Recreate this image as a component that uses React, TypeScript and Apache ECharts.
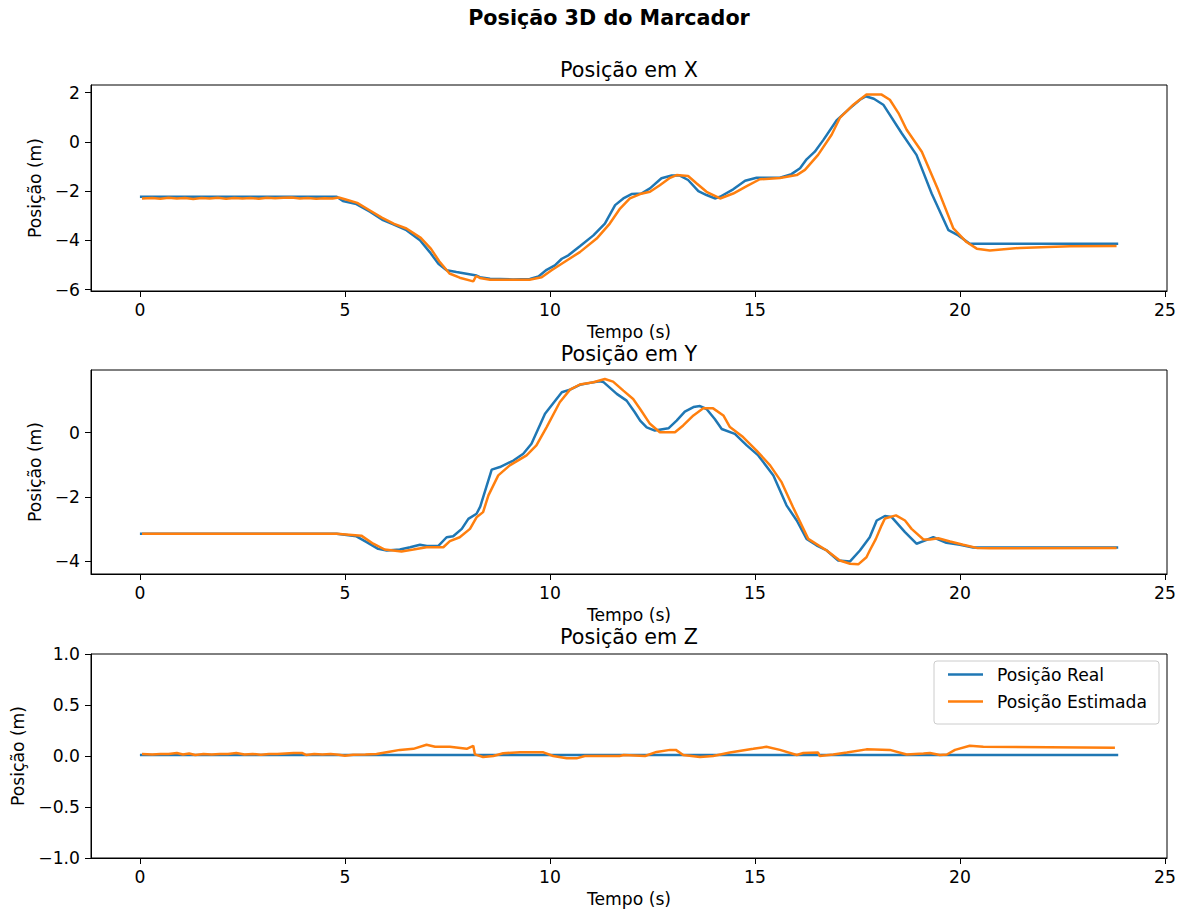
import React, { useEffect, useRef } from "react";
import * as echarts from "echarts";

// ---- data ----
const xTicks = [0, 5, 10, 15, 20, 25];
const yTicksX = [-6, -4, -2, 0, 2];
const yTicksY = [-4, -2, 0];

const tRealX = [0, 4.8, 4.95, 5.28, 5.61, 5.93, 6.18, 6.5, 6.83, 7.07, 7.28, 7.48, 7.72, 8.21, 8.29, 8.54, 9.1, 9.51, 9.72, 9.92, 10.12, 10.29, 10.45, 10.73, 11.06, 11.34, 11.59, 11.79, 11.99, 12.23, 12.44, 12.72, 12.97, 13.17, 13.37, 13.62, 13.82, 14.02, 14.15, 14.47, 14.76, 15.04, 15.37, 15.61, 15.89, 16.1, 16.26, 16.46, 16.67, 16.99, 17.32, 17.56, 17.7, 17.9, 18.13, 18.58, 18.94, 19.31, 19.72, 19.96, 20.24, 23.86];
const realX = [-2.23, -2.23, -2.4, -2.53, -2.84, -3.18, -3.35, -3.59, -4.0, -4.48, -4.95, -5.22, -5.29, -5.43, -5.5, -5.56, -5.59, -5.57, -5.47, -5.2, -5.02, -4.75, -4.61, -4.24, -3.8, -3.32, -2.57, -2.3, -2.12, -2.1, -1.89, -1.48, -1.37, -1.37, -1.55, -2.0, -2.16, -2.3, -2.23, -1.93, -1.58, -1.46, -1.46, -1.46, -1.31, -1.07, -0.71, -0.4, 0.08, 0.87, 1.37, 1.71, 1.85, 1.75, 1.51, 0.35, -0.53, -2.1, -3.59, -3.8, -4.14, -4.14];

const tEstX = [0.05, 0.3, 0.5, 0.7, 0.9, 1.1, 1.3, 1.5, 1.7, 1.9, 2.1, 2.3, 2.5, 2.7, 2.9, 3.1, 3.3, 3.5, 3.7, 3.9, 4.1, 4.3, 4.5, 4.7, 4.85, 5.0, 5.3, 5.6, 5.9, 6.2, 6.5, 6.85, 7.1, 7.3, 7.55, 7.8, 8.13, 8.2, 8.29, 8.54, 9.1, 9.5, 9.8, 10.04, 10.41, 10.73, 11.14, 11.46, 11.71, 11.95, 12.2, 12.44, 12.68, 12.93, 13.09, 13.37, 13.58, 13.82, 14.15, 14.47, 14.8, 15.12, 15.61, 16.02, 16.22, 16.54, 16.87, 17.07, 17.4, 17.72, 18.09, 18.29, 18.5, 18.7, 19.07, 19.47, 19.84, 20.16, 20.41, 20.73, 21.46, 22.68, 23.82];
const estX = [-2.3, -2.28, -2.31, -2.27, -2.3, -2.28, -2.32, -2.28, -2.3, -2.27, -2.31, -2.28, -2.3, -2.28, -2.31, -2.27, -2.29, -2.27, -2.26, -2.3, -2.28, -2.31, -2.29, -2.3, -2.26, -2.33, -2.48, -2.78, -3.08, -3.33, -3.52, -3.9, -4.35, -4.85, -5.35, -5.52, -5.67, -5.45, -5.53, -5.6, -5.6, -5.6, -5.5, -5.22, -4.82, -4.48, -3.93, -3.32, -2.71, -2.3, -2.12, -2.03, -1.76, -1.46, -1.35, -1.39, -1.69, -2.03, -2.3, -2.1, -1.8, -1.52, -1.47, -1.35, -1.14, -0.53, 0.29, 0.97, 1.51, 1.92, 1.92, 1.71, 1.17, 0.49, -0.4, -1.96, -3.52, -4.07, -4.34, -4.41, -4.31, -4.24, -4.23];

const tRealY = [0, 4.8, 5.28, 5.53, 5.81, 6.02, 6.34, 6.59, 6.83, 7.0, 7.28, 7.48, 7.64, 7.85, 8.01, 8.21, 8.3, 8.58, 8.78, 9.11, 9.35, 9.55, 9.88, 10.29, 10.49, 10.73, 10.98, 11.22, 11.3, 11.63, 11.87, 12.07, 12.2, 12.36, 12.56, 12.89, 13.09, 13.29, 13.5, 13.66, 13.82, 14.02, 14.19, 14.51, 14.8, 15.08, 15.45, 15.77, 16.02, 16.26, 16.5, 16.75, 17.03, 17.32, 17.56, 17.8, 17.97, 18.17, 18.33, 18.66, 18.94, 19.11, 19.35, 19.67, 20.0, 20.32, 23.86];
const realY = [-3.14, -3.14, -3.22, -3.4, -3.61, -3.66, -3.63, -3.56, -3.48, -3.52, -3.52, -3.25, -3.22, -2.99, -2.68, -2.52, -2.3, -1.15, -1.07, -0.87, -0.66, -0.35, 0.58, 1.25, 1.33, 1.48, 1.54, 1.59, 1.57, 1.2, 0.99, 0.63, 0.37, 0.16, 0.06, 0.13, 0.37, 0.65, 0.79, 0.82, 0.73, 0.42, 0.11, -0.04, -0.4, -0.71, -1.33, -2.26, -2.73, -3.3, -3.5, -3.66, -3.97, -4.0, -3.66, -3.25, -2.73, -2.59, -2.62, -3.09, -3.45, -3.37, -3.25, -3.42, -3.48, -3.57, -3.57];

const tEstY = [0.05, 4.8, 5.4, 5.69, 5.97, 6.38, 6.67, 6.99, 7.4, 7.56, 7.8, 8.05, 8.21, 8.37, 8.5, 8.74, 9.02, 9.43, 9.67, 9.92, 10.24, 10.49, 10.73, 11.06, 11.34, 11.54, 11.79, 12.03, 12.2, 12.44, 12.68, 13.05, 13.25, 13.5, 13.74, 13.98, 14.23, 14.39, 14.71, 15.04, 15.37, 15.65, 15.93, 16.3, 16.75, 17.07, 17.32, 17.52, 17.72, 17.8, 17.95, 18.09, 18.17, 18.44, 18.66, 18.82, 19.11, 19.27, 19.47, 19.76, 20.08, 20.41, 20.73, 23.82];
const estY = [-3.14, -3.14, -3.2, -3.45, -3.63, -3.69, -3.63, -3.56, -3.56, -3.37, -3.25, -2.99, -2.63, -2.47, -1.95, -1.33, -1.02, -0.71, -0.4, 0.17, 0.94, 1.33, 1.49, 1.56, 1.66, 1.58, 1.3, 1.04, 0.73, 0.27, 0.01, 0.01, 0.22, 0.53, 0.75, 0.75, 0.53, 0.17, -0.14, -0.56, -1.02, -1.54, -2.32, -3.3, -3.66, -3.97, -4.07, -4.09, -3.87, -3.66, -3.3, -2.88, -2.67, -2.57, -2.73, -2.99, -3.32, -3.32, -3.28, -3.38, -3.48, -3.58, -3.59, -3.58];

const tRealZ = [0, 23.86];
const realZ = [0.01, 0.01];

const tEstZ = [0.05, 0.3, 0.5, 0.7, 0.9, 1.05, 1.2, 1.35, 1.55, 1.75, 1.95, 2.15, 2.35, 2.55, 2.75, 2.95, 3.15, 3.35, 3.55, 3.75, 3.95, 4.05, 4.25, 4.45, 4.65, 4.85, 5.0, 5.2, 5.5, 5.77, 6.05, 6.34, 6.67, 6.99, 7.2, 7.56, 7.97, 8.13, 8.17, 8.37, 8.62, 8.86, 9.27, 9.84, 10.08, 10.41, 10.65, 10.85, 11.7, 11.8, 12.32, 12.6, 12.93, 13.07, 13.25, 13.66, 13.98, 14.39, 14.96, 15.28, 15.61, 16.02, 16.18, 16.54, 16.58, 16.91, 17.24, 17.72, 18.29, 18.7, 19.11, 19.27, 19.51, 19.68, 19.88, 20.24, 20.57, 23.78];
const estZ = [0.02, 0.015, 0.02, 0.02, 0.03, 0.015, 0.025, 0.01, 0.02, 0.015, 0.02, 0.02, 0.03, 0.015, 0.02, 0.012, 0.02, 0.02, 0.025, 0.03, 0.03, 0.01, 0.02, 0.015, 0.02, 0.012, 0.003, 0.012, 0.015, 0.02, 0.04, 0.06, 0.07, 0.11, 0.09, 0.09, 0.07, 0.1, 0.016, -0.01, 0.0, 0.027, 0.036, 0.036, 0.0, -0.023, -0.023, 0.0, 0.0, 0.01, 0.0, 0.04, 0.06, 0.06, 0.01, -0.01, 0.0, 0.035, 0.07, 0.09, 0.06, 0.01, 0.03, 0.035, 0.0, 0.015, 0.035, 0.065, 0.06, 0.015, 0.025, 0.03, 0.01, 0.015, 0.06, 0.1, 0.09, 0.082];

const seriesNames = ["Posição Real", "Posição Estimada"];
const subTitles = ["Posição em X", "Posição em Y", "Posição em Z"];
const mainTitle = "Posição 3D do Marcador";
const xName = "Tempo (s)";
const yName = "Posição (m)";

// ---- styling ----
const FONT = "DejaVu Sans";
const BLUE = "#1f77b4";
const ORANGE = "#ff7f0e";
const TICK_FS = 17.2;
const TITLE_FS = 20.7;

const pairs = (t: number[], v: number[]) => t.map((x, i) => [x, v[i]]);
const fmt = (v: number, d: number) => (v < 0 ? "\u2212" : "") + Math.abs(v).toFixed(d);

const grids = [
  { left: 91, top: 85, width: 1076, height: 206 },
  { left: 91, top: 370, width: 1076, height: 204 },
  { left: 91, top: 654, width: 1076, height: 204 },
];

function makeX(gridIndex: number) {
  return {
    type: "value",
    gridIndex,
    min: -1.193,
    max: 25.05,
    name: xName,
    nameLocation: "middle",
    nameGap: 32,
    nameTextStyle: { fontFamily: FONT, fontSize: TICK_FS, color: "#000" },
    axisLine: { show: true, onZero: false, lineStyle: { color: "#000", width: 1 } },
    axisTick: { show: true, inside: false, length: 6, customValues: xTicks, lineStyle: { color: "#000", width: 1 } },
    axisLabel: { customValues: xTicks, margin: 10, fontFamily: FONT, fontSize: TICK_FS, color: "#000", formatter: (v: number) => fmt(v, 0) },
    splitLine: { show: false },
  };
}

function makeY(gridIndex: number, min: number, max: number, ticks: number[] | null, decimals: number, gap: number) {
  const ax: any = {
    type: "value",
    gridIndex,
    min,
    max,
    name: yName,
    nameLocation: "middle",
    nameGap: gap,
    nameTextStyle: { fontFamily: FONT, fontSize: TICK_FS, color: "#000" },
    axisLine: { show: true, onZero: false, lineStyle: { color: "#000", width: 1 } },
    axisTick: { show: true, inside: false, length: 6, lineStyle: { color: "#000", width: 1 } },
    axisLabel: { margin: 11, fontFamily: FONT, fontSize: TICK_FS, color: "#000", formatter: (v: number) => fmt(v, decimals) },
    splitLine: { show: false },
  };
  if (ticks) {
    ax.axisTick.customValues = ticks;
    ax.axisLabel.customValues = ticks;
  } else {
    ax.interval = 0.5;
  }
  return ax;
}

function line(name: string, color: string, idx: number, data: number[][]) {
  return {
    type: "line",
    name,
    xAxisIndex: idx,
    yAxisIndex: idx,
    data,
    symbol: "none",
    showSymbol: false,
    lineStyle: { color, width: 2.5 },
    itemStyle: { color },
    emphasis: { disabled: true },
  };
}

export default function App() {
  const ref = useRef<HTMLDivElement>(null);
  useEffect(() => {
    if (!ref.current) return;
    const chart = echarts.init(ref.current, null, { renderer: "svg" });
    const titleY = [70, 354, 637];
    chart.setOption({
      animation: false,
      backgroundColor: "#fff",
      textStyle: { fontFamily: FONT },
      grid: grids.map((g) => ({ ...g, show: true, borderColor: "#000", borderWidth: 1, backgroundColor: "transparent" })),
      xAxis: [makeX(0), makeX(1), makeX(2)],
      yAxis: [
        makeY(0, -6.06, 2.31, yTicksX, 0, 45),
        makeY(1, -4.39, 1.94, yTicksY, 0, 45),
        makeY(2, -1, 1, null, 1, 65),
      ],
      legend: {
        data: seriesNames.map((n) => ({ name: n, icon: "rect" })),
        orient: "vertical",
        left: 934,
        top: 661,
        padding: [5, 12, 14, 14],
        itemGap: 10,
        itemWidth: 35,
        itemHeight: 2.5,
        backgroundColor: "rgba(255,255,255,0.8)",
        borderColor: "#cccccc",
        borderWidth: 1,
        borderRadius: 3,
        textStyle: { fontFamily: FONT, fontSize: TICK_FS, color: "#000", padding: [0, 0, 0, 9] },
        selectedMode: false,
      },
      graphic: [
        { type: "text", x: 609, y: 18, style: { text: mainTitle, fontFamily: FONT, fontSize: TITLE_FS, fontWeight: "bold", fill: "#000", align: "center", verticalAlign: "middle" } },
        ...subTitles.map((t, i) => ({
          type: "text",
          x: 629,
          y: titleY[i],
          style: { text: t, fontFamily: FONT, fontSize: TITLE_FS, fill: "#000", align: "center", verticalAlign: "middle" },
        })),
      ],
      series: [
        line(seriesNames[0], BLUE, 0, pairs(tRealX, realX)),
        line(seriesNames[1], ORANGE, 0, pairs(tEstX, estX)),
        line(seriesNames[0], BLUE, 1, pairs(tRealY, realY)),
        line(seriesNames[1], ORANGE, 1, pairs(tEstY, estY)),
        line(seriesNames[0], BLUE, 2, pairs(tRealZ, realZ)),
        line(seriesNames[1], ORANGE, 2, pairs(tEstZ, estZ)),
      ],
    });
    return () => chart.dispose();
  }, []);
  return <div ref={ref} style={{ position: "absolute", left: 0, top: 0, width: 1184, height: 912 }} />;
}
